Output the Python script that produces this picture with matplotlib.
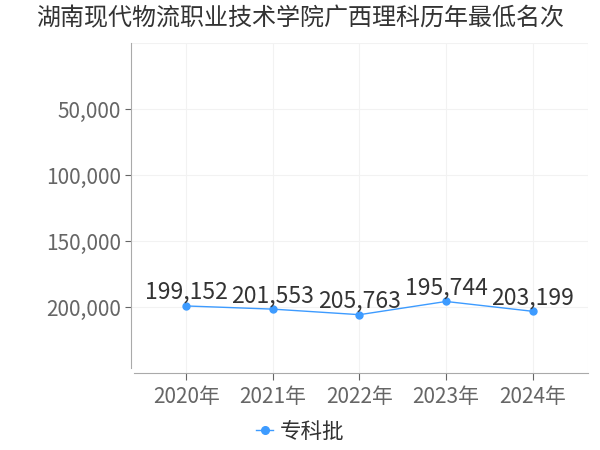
import matplotlib.pyplot as plt

plt.rcParams['font.family'] = ['Noto Sans CJK SC', 'DejaVu Sans']

years = ['2020年', '2021年', '2022年', '2023年', '2024年']
ranks = [199152, 201553, 205763, 195744, 203199]
series_name = '专科批'
title = '湖南现代物流职业技术学院广西理科历年最低名次'
yticks = [50000, 100000, 150000, 200000]

fig = plt.figure(figsize=(6, 4.5), dpi=100)
ax = fig.add_axes([0.2183, 0.171, 0.7617, 0.733])

x = list(range(len(years)))
line_color = '#3d9bff'
ax.plot(x, ranks, color=line_color, linewidth=1, marker='o', markersize=5,
        label=series_name)
for xi, v in zip(x, ranks):
    ax.annotate(f'{v:,}', (xi, v), xytext=(0, 5), textcoords='offset points',
                ha='center', va='baseline', fontsize=16.5, color='#333333')

ax.set_xlim(-0.64, 4.64)
ax.set_ylim(250000, 0)
ax.set_xticks(x)
ax.set_xticklabels(years)
ax.set_yticks(yticks)
ax.set_yticklabels([f'{t:,}' for t in yticks])
ax.tick_params(axis='both', labelsize=15, colors='#666666', length=4)
ax.tick_params(axis='x', length=5, pad=4)
ax.tick_params(axis='y', pad=3)

for t in [0] + yticks:
    ax.axhline(t, color='#f2f2f2', linewidth=0.8, zorder=0)
for xi in x + [4.64]:
    ax.axvline(xi, color='#f2f2f2', linewidth=0.8, zorder=0)

ax.spines['top'].set_visible(False)
ax.spines['right'].set_visible(False)
ax.spines['left'].set_color('#aaaaaa')
ax.spines['bottom'].set_color('#aaaaaa')
ax.spines['left'].set_bounds(246000, 0)
ax.spines['bottom'].set_bounds(-0.6, 4.64)

fig.text(0.5, 0.96, title, fontsize=17.3, color='#333333', ha='center', va='center')
fig.legend(loc='center', bbox_to_anchor=(0.5, 0.04), frameon=False,
           fontsize=15.5, handlelength=0.8, handletextpad=0.3, markerscale=1.1,
           labelcolor='#333333')

fig.savefig('out.png')
